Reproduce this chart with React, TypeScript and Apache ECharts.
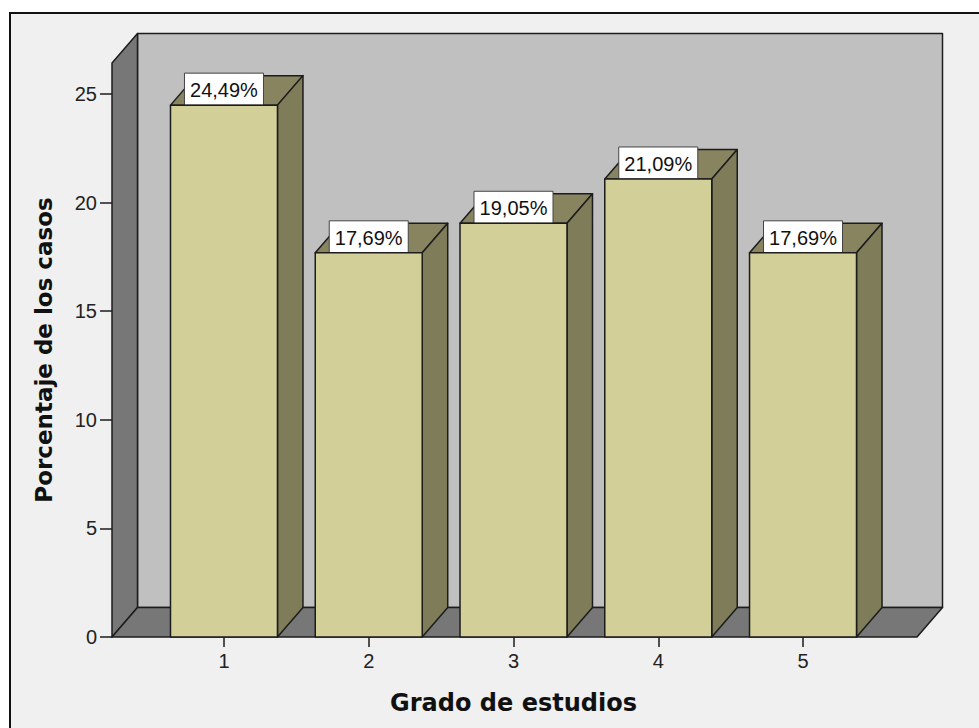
import React, { useEffect, useRef } from "react";
import * as echarts from "echarts";

const CATEGORIES = ["1", "2", "3", "4", "5"];
const VALUES = [24.49, 17.69, 19.05, 21.09, 17.69];
const Y_TICKS = [0, 5, 10, 15, 20, 25];
const Y_MAX = 26.43;
const X_TITLE = "Grado de estudios";
const Y_TITLE = "Porcentaje de los casos";

const DX = 25.5;
const DY = 29.5;
const PAD_L = 39.6;
const PAD_R = 41.6;
const EDGE = "#1c1c1c";
const EDGE_W = 1.5;

function fmt(v: number) {
  return v.toFixed(2).replace(".", ",") + "%";
}

export default function App() {
  const ref = useRef<HTMLDivElement>(null);
  useEffect(() => {
    document.body.style.margin = "0";
    const chart = echarts.init(ref.current!, null, { renderer: "svg" });
    const option: any = {
      animation: false,
      backgroundColor: "#ffffff",
      graphic: [
        {
          type: "rect",
          z: -10,
          shape: { x: 10, y: 13, width: 1000, height: 800 },
          style: { fill: "#f0f0f0", stroke: "#111", lineWidth: 2 },
        },
      ],
      grid: { left: 151.6, right: 103.6, top: 63, bottom: 91 },
      xAxis: {
        type: "category",
        data: CATEGORIES,
        axisLine: { show: false },
        axisTick: { show: true, alignWithLabel: true, length: 10, lineStyle: { color: "#1c1c1c", width: 1.5 } },
        axisLabel: { margin: 14, fontSize: 20, fontFamily: "'Liberation Sans', Arial, sans-serif", color: "#222" },
        splitLine: { show: false },
        name: X_TITLE,
        nameLocation: "middle",
        nameGap: 54,
        nameTextStyle: { fontSize: 24, fontWeight: "bold", fontFamily: "'DejaVu Sans', sans-serif", color: "#111" },
      },
      yAxis: {
        type: "value",
        min: 0,
        max: Y_MAX,
        interval: 5,
        offset: PAD_L,
        axisLine: { show: false },
        axisTick: { show: true, length: 12, customValues: Y_TICKS, lineStyle: { color: "#1c1c1c", width: 1.5 } },
        axisLabel: {
          margin: 15,
          customValues: Y_TICKS,
          fontSize: 20,
          fontFamily: "'Liberation Sans', Arial, sans-serif",
          color: "#222",
        },
        splitLine: { show: false },
        name: Y_TITLE,
        nameLocation: "middle",
        nameGap: 57,
        nameTextStyle: { fontSize: 23, fontWeight: "bold", fontFamily: "'DejaVu Sans', sans-serif", color: "#111" },
      },
      series: [
        {
          type: "custom",
          z: 1,
          clip: false,
          data: [[0, 0]],
          renderItem: (params: any, api: any) => {
            const cs = params.coordSys;
            const x0 = cs.x - PAD_L;
            const x1 = cs.x + cs.width + PAD_R;
            const yb = api.coord([0, 0])[1];
            const yt = api.coord([0, Y_MAX])[1];
            const st = (fill: string) => ({ fill, stroke: EDGE, lineWidth: EDGE_W, lineJoin: "round" });
            return {
              type: "group",
              children: [
                {
                  type: "rect",
                  shape: { x: x0 + DX, y: yt - DY, width: x1 - x0, height: yb - yt },
                  style: st("#c0c0c0"),
                },
                {
                  type: "polygon",
                  shape: { points: [[x0, yb], [x0, yt], [x0 + DX, yt - DY], [x0 + DX, yb - DY]] },
                  style: st("#777777"),
                },
                {
                  type: "polygon",
                  shape: { points: [[x0, yb], [x1, yb], [x1 + DX, yb - DY], [x0 + DX, yb - DY]] },
                  style: st("#777777"),
                },
              ],
            };
          },
        },
        {
          type: "custom",
          z: 2,
          clip: false,
          data: VALUES.map((v, i) => [i, v]),
          renderItem: (params: any, api: any) => {
            const xi = api.value(0);
            const v = api.value(1);
            const base = api.coord([xi, 0]);
            const top = api.coord([xi, v]);
            const bw = api.size([1, 0])[0] * 0.739;
            const l = base[0] - bw / 2;
            const r = base[0] + bw / 2;
            const yb = base[1];
            const yt = top[1];
            const st = (fill: string) => ({ fill, stroke: EDGE, lineWidth: EDGE_W, lineJoin: "round" });
            const boxW = 79;
            const boxH = 32;
            return {
              type: "group",
              children: [
                {
                  type: "polygon",
                  shape: { points: [[l, yt], [r, yt], [r + DX, yt - DY], [l + DX, yt - DY]] },
                  style: st("#888460"),
                },
                {
                  type: "polygon",
                  shape: { points: [[r, yb], [r, yt], [r + DX, yt - DY], [r + DX, yb - DY]] },
                  style: st("#7f7c5a"),
                },
                {
                  type: "rect",
                  shape: { x: base[0] - boxW / 2, y: yt - boxH, width: boxW, height: boxH },
                  style: { fill: "#ffffff", stroke: "#444", lineWidth: 1 },
                },
                {
                  type: "text",
                  style: {
                    text: fmt(v),
                    x: base[0],
                    y: yt - boxH / 2 + 1,
                    align: "center",
                    verticalAlign: "middle",
                    fontSize: 20,
                    fontFamily: "'Liberation Sans', Arial, sans-serif",
                    fill: "#111",
                  },
                },
                {
                  type: "rect",
                  shape: { x: l, y: yt, width: r - l, height: yb - yt },
                  style: st("#d3cf98"),
                },
              ],
            };
          },
        },
      ],
    };
    chart.setOption(option);
    return () => chart.dispose();
  }, []);
  return <div ref={ref} style={{ width: 979, height: 728 }} />;
}
